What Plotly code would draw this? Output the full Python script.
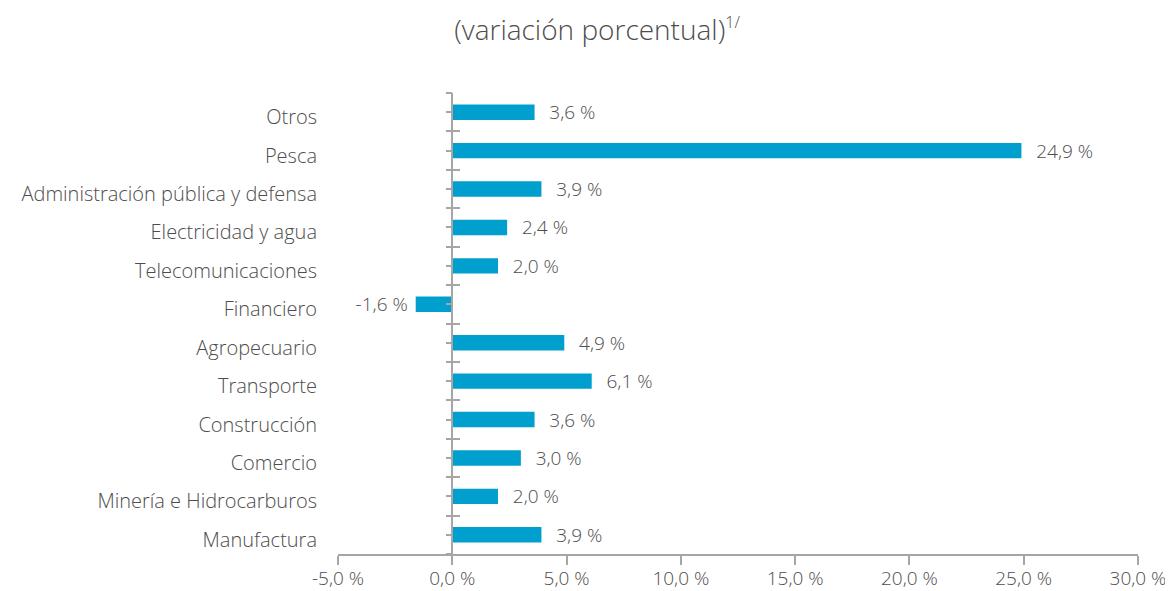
import plotly.graph_objects as go

categories = ["Otros", "Pesca", "Administración pública y defensa", "Electricidad y agua",
              "Telecomunicaciones", "Financiero", "Agropecuario", "Transporte",
              "Construcción", "Comercio", "Minería e Hidrocarburos", "Manufactura"]
values = [3.6, 24.9, 3.9, 2.4, 2.0, -1.6, 4.9, 6.1, 3.6, 3.0, 2.0, 3.9]
x_ticks = [-5, 0, 5, 10, 15, 20, 25, 30]
x_ticktext = ["-5,0 %", "0,0 %", "5,0 %", "10,0 %", "15,0 %", "20,0 %", "25,0 %", "30,0 %"]

NB = "\u00a0"
labels = [(NB * 2 + "\u200a" + f"{v:.1f} %".replace(".", ",")) if v >= 0
          else (f"{v:.1f} %".replace(".", ",") + NB) for v in values]

FONT = "Open Sans"
GREY = "#4d4d4d"
AXC = "#a6a6a6"
FS = 19

def tf(size=FS):
    return dict(family=FONT, size=size, color=GREY, weight=300)

n = len(categories)
half_ticks = [i * 0.5 - 0.5 for i in range(2 * n + 1)]
bound_ticks = [i - 0.5 for i in range(n + 1)]
pos0 = (0 - x_ticks[0]) / (x_ticks[-1] - x_ticks[0])

# page body has an 8px margin; figure is sized to fit the 1173x591 window
W, H = 1165, 583

fig = go.Figure()
fig.add_trace(go.Bar(
    y=categories, x=values, orientation="h",
    marker=dict(color="#009fcd", line=dict(width=0)),
    text=labels, textposition="outside", cliponaxis=False, constraintext="none",
    textfont=tf(),
    hoverinfo="skip",
))
# helper traces so the axis at zero is drawn
for ax in ["y2", "y3"]:
    fig.add_trace(go.Scatter(x=[0], y=[0], yaxis=ax, mode="markers",
                             marker=dict(opacity=0), hoverinfo="skip", showlegend=False))

fig.update_layout(
    width=W, height=H,
    margin=dict(l=330, r=35, t=85, b=37, autoexpand=False),
    paper_bgcolor="white", plot_bgcolor="white",
    showlegend=False,
    bargap=0.6,
    title=dict(text='(variación porcentual)<sup><span style="font-size:16px">1/</span></sup>',
               x=0.5056, xref="container",
               xanchor="center", y=0.962, yref="container", yanchor="middle",
               font=tf(28)),
    xaxis=dict(range=[x_ticks[0], x_ticks[-1]], tickvals=x_ticks, ticktext=x_ticktext,
               showgrid=False, zeroline=False, automargin=False,
               showline=True, linecolor=AXC, linewidth=1.5,
               ticks="outside", ticklen=9, tickcolor=AXC, tickwidth=1.5,
               ticklabelstandoff=-3,
               tickfont=tf()),
    yaxis=dict(autorange="reversed", showgrid=False, showline=False, ticks="",
               automargin=False, ticklabelstandoff=20, ticklabelshift=-5,
               tickfont=tf(20)),
    yaxis2=dict(overlaying="y", anchor="free", position=pos0, side="left",
                range=[n - 0.5, -0.5], showgrid=False, zeroline=False, automargin=False,
                showline=True, linecolor=AXC, linewidth=1.5,
                tickmode="array", tickvals=half_ticks, showticklabels=False,
                ticks="outside", ticklen=6, tickcolor=AXC, tickwidth=1.5),
    yaxis3=dict(overlaying="y", anchor="free", position=pos0, side="left",
                range=[n - 0.5, -0.5], showgrid=False, zeroline=False, automargin=False,
                showline=False,
                tickmode="array", tickvals=bound_ticks, showticklabels=False,
                ticks="inside", ticklen=7, tickcolor=AXC, tickwidth=1.5),
)

fig.write_html("out.html")
